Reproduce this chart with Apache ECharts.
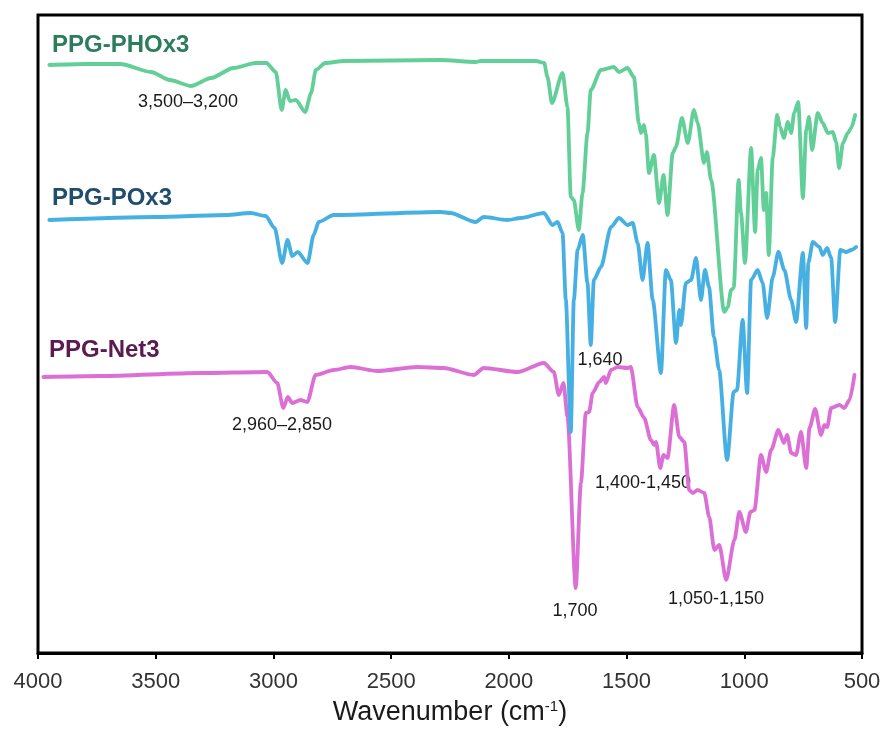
<!DOCTYPE html>
<html>
<head>
<meta charset="utf-8">
<script src="https://cdn.jsdelivr.net/npm/echarts@6/dist/echarts.min.js"></script>
<style>
html,body{margin:0;padding:0;background:#fff;}
#chart{width:886px;height:732px;}
</style>
</head>
<body>
<div id="chart"></div>
<script>
// Wavenumber ticks
const xTicks = [4000, 3500, 3000, 2500, 2000, 1500, 1000, 500];

// Series names
const seriesNames = ['PPG-PHOx3', 'PPG-POx3', 'PPG-Net3'];

// Band annotations
const bandLabels = ['3,500–3,200', '2,960–2,850', '1,640', '1,400-1,450', '1,700', '1,050-1,150'];

// Spectra: [wavenumber (cm-1), offset transmittance (a.u.)]
const phox3 = [
  [3952,588],[3800,589],[3650,589],[3520,581],[3440,573],[3350,567],[3265,575],[3170,585],[3075,590],[3030,590],
  [2990,581],[2965,543],[2948,563],[2930,552],[2905,553],[2865,541],[2840,560],[2820,583],[2780,590],[2700,592],
  [2290,593],[2140,591],[2120,592],[2035,592],[1885,592],[1850,590],[1836,576],[1817,550],[1772,580],[1751,546],
  [1737,456],[1724,453],[1703,423],[1687,460],[1666,520],[1652,563],[1609,583],[1554,586],[1532,581],[1496,585],
  [1469,576],[1448,530],[1439,520],[1426,528],[1418,518],[1405,480],[1384,498],[1362,450],[1343,478],[1326,438],
  [1304,500],[1290,506],[1265,535],[1240,510],[1214,543],[1198,530],[1171,490],[1159,501],[1141,473],[1085,341],
  [1070,346],[1056,363],[1045,365],[1024,473],[1014,440],[997,390],[971,505],[954,421],[943,483],[929,495],
  [917,443],[907,460],[896,398],[879,496],[860,538],[848,526],[832,515],[815,531],[801,520],[788,540],
  [771,551],[751,455],[737,523],[725,536],[712,503],[688,540],[667,530],[645,520],[624,521],[610,511],
  [597,485],[581,510],[560,520],[546,525],[529,538]
];

const pox3 = [
  [3952,433],[3500,436],[3200,438],[3097,440],[3033,437],[2995,425],[2963,390],[2940,413],[2920,397],[2897,401],
  [2855,390],[2829,418],[2808,431],[2744,438],[2289,441],[2248,440],[2141,431],[2107,436],[2006,433],[1949,435],
  [1851,440],[1815,428],[1793,431],[1772,420],[1758,353],[1737,221],[1724,353],[1708,403],[1686,418],[1666,370],
  [1652,308],[1639,373],[1609,386],[1566,426],[1532,435],[1496,428],[1474,430],[1453,410],[1432,373],[1411,410],
  [1389,353],[1354,280],[1333,383],[1312,373],[1290,310],[1276,343],[1269,328],[1248,370],[1226,373],[1205,395],
  [1184,353],[1167,383],[1150,366],[1129,316],[1107,283],[1073,193],[1045,261],[1031,263],[1007,333],[988,260],
  [971,373],[943,383],[922,370],[903,335],[879,376],[855,401],[830,383],[801,353],[780,331],[751,400],
  [737,325],[728,390],[709,411],[681,406],[667,398],[648,405],[631,395],[614,331],[592,403],[567,401],
  [546,403],[525,406]
];

const net3 = [
  [3977,276],[3735,277],[3310,280],[3026,281],[2984,270],[2958,245],[2939,256],[2920,250],[2885,253],[2856,251],
  [2821,278],[2744,283],[2672,286],[2559,282],[2388,286],[2277,285],[2149,278],[2107,285],[1963,281],[1851,290],
  [1809,281],[1788,258],[1768,270],[1751,236],[1716,65],[1694,170],[1673,240],[1659,241],[1644,260],[1616,271],
  [1595,276],[1588,270],[1566,283],[1538,286],[1496,285],[1482,286],[1453,246],[1425,235],[1397,213],[1382,208],
  [1375,211],[1357,185],[1343,198],[1326,195],[1298,248],[1276,216],[1255,211],[1234,163],[1219,160],[1198,163],
  [1170,160],[1149,136],[1127,103],[1106,108],[1077,73],[1042,113],[1021,141],[993,121],[974,141],[957,143],
  [929,198],[907,181],[886,203],[855,223],[832,210],[818,218],[801,200],[780,198],[759,221],[737,185],
  [723,225],[699,244],[674,218],[660,228],[648,226],[631,245],[596,248],[575,245],[553,253],[532,278]
];

const chart = echarts.init(document.getElementById('chart'), null, {renderer: 'canvas'});

const FONT = '"Liberation Sans", Arial, sans-serif';

function lineSeries(name, data, color) {
  return {
    name: name,
    type: 'line',
    data: data,
    showSymbol: false,
    symbol: 'none',
    smooth: 0.25,
    smoothMonotone: 'x',
    lineStyle: {color: color, width: 3.8, cap: 'round', join: 'round'},
    silent: true,
    animation: false
  };
}

const textStyleAnno = {fill: '#1a1a1a', font: '18px ' + FONT, textAlign: 'center', textVerticalAlign: 'middle'};

chart.setOption({
  animation: false,
  backgroundColor: '#ffffff',
  grid: {
    left: 38, right: 24, top: 15, bottom: 79,
    show: true, borderColor: '#000', borderWidth: 3, backgroundColor: 'transparent'
  },
  xAxis: {
    type: 'value',
    inverse: true,
    min: 500, max: 4000, interval: 500,
    axisLine: {show: true, onZero: false, lineStyle: {color: '#000', width: 3}},
    axisTick: {show: true, length: 6, lineStyle: {color: '#000', width: 2}},
    axisLabel: {
      color: '#333', fontSize: 22, fontFamily: FONT, margin: 18,
      formatter: function (v) { return xTicks.indexOf(v) >= 0 ? String(v) : ''; }
    },
    splitLine: {show: false},
    name: 'Wavenumber (cm{sup|-1})',
    nameLocation: 'middle',
    nameGap: 46,
    nameTextStyle: {
      color: '#1a1a1a', fontSize: 27, fontFamily: FONT,
      rich: {sup: {fontSize: 15, fontFamily: FONT, color: '#1a1a1a', verticalAlign: 'top', lineHeight: 27}}
    }
  },
  yAxis: {
    type: 'value', min: 0, max: 638,
    show: false, splitLine: {show: false}
  },
  series: [
    lineSeries(seriesNames[2], net3, '#db6fd5'),
    lineSeries(seriesNames[1], pox3, '#47b0e2'),
    lineSeries(seriesNames[0], phox3, '#62cf98')
  ],
  graphic: [
    {type: 'text', left: 52, top: 33, style: {text: seriesNames[0], fill: '#2b7d5c', font: 'bold 24px ' + FONT}},
    {type: 'text', left: 52, top: 186, style: {text: seriesNames[1], fill: '#1f4d6b', font: 'bold 24px ' + FONT}},
    {type: 'text', left: 49, top: 338, style: {text: seriesNames[2], fill: '#5b1a52', font: 'bold 24px ' + FONT}},
    {type: 'text', x: 188, y: 102, style: Object.assign({text: bandLabels[0]}, textStyleAnno)},
    {type: 'text', x: 282, y: 425, style: Object.assign({text: bandLabels[1]}, textStyleAnno)},
    {type: 'text', x: 600, y: 360, style: Object.assign({text: bandLabels[2]}, textStyleAnno)},
    {type: 'text', x: 643, y: 483, style: Object.assign({text: bandLabels[3]}, textStyleAnno)},
    {type: 'text', x: 575, y: 611, style: Object.assign({text: bandLabels[4]}, textStyleAnno)},
    {type: 'text', x: 716, y: 599, style: Object.assign({text: bandLabels[5]}, textStyleAnno)}
  ]
});
</script>
</body>
</html>
